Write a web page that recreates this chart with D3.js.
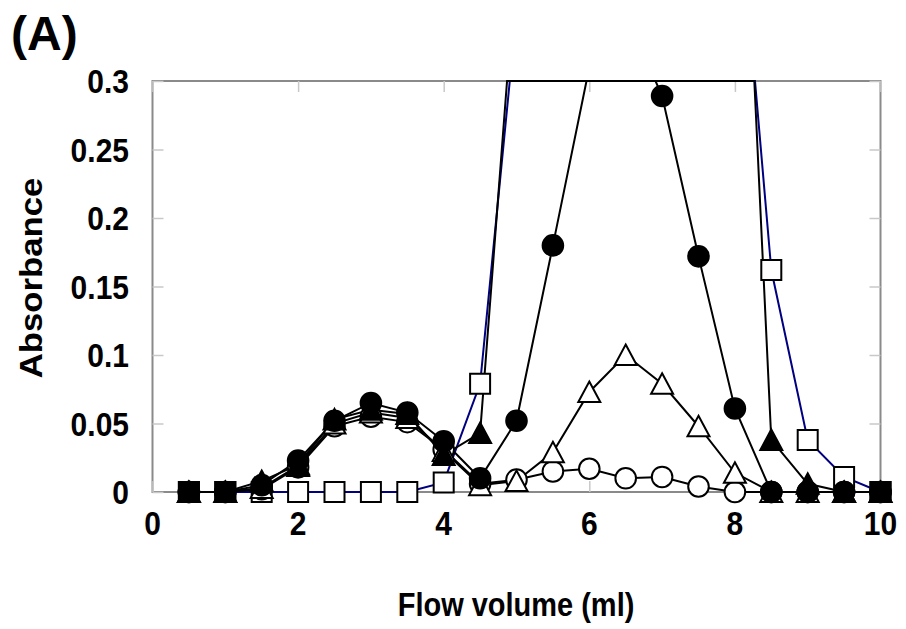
<!DOCTYPE html>
<html>
<head>
<meta charset="utf-8">
<script src="https://cdn.jsdelivr.net/npm/d3@7/dist/d3.min.js"></script>
<style>
  body { margin: 0; background: #fff; }
  text { font-family: "Liberation Sans", Arial, sans-serif; font-weight: bold; fill: #000; }
</style>
</head>
<body>
<div id="chart"></div>
<script>
// flow volume (ml) of each fraction
let volumes = [0.5, 1, 1.5, 2, 2.5, 3, 3.5, 4, 4.5, 5, 5.5, 6, 6.5, 7, 7.5, 8, 8.5, 9, 9.5, 10];

// absorbance per fraction, values above 0.3 run off the top of the axis
let openSquares     = [0, 0, 0, 0, 0, 0, 0, 0.007, 0.079, 0.35, 0.4, 0.4, 0.4, 0.4, 0.4, 0.47, 0.162, 0.038, 0.011, 0];
let openCircles     = [0, 0, 0.002, 0.018, 0.048, 0.055, 0.051, 0.031, 0.006, 0.009, 0.015, 0.017, 0.010, 0.011, 0.004, 0, 0, 0, 0, 0];
let openTriangles   = [0, 0, 0.003, 0.019, 0.050, 0.058, 0.054, 0.030, 0.005, 0.008, 0.029, 0.073, 0.100, 0.079, 0.048, 0.014, 0, 0, 0, 0];
let filledTriangles = [0, 0, 0.008, 0.020, 0.053, 0.060, 0.057, 0.027, 0.043, 0.39, 0.4, 0.4, 0.4, 0.4, 0.4, 0.6, 0.038, 0.006, 0, 0];
let filledCircles   = [0, 0, 0.005, 0.023, 0.052, 0.065, 0.058, 0.037, 0.010, 0.052, 0.180, 0.31, 0.35, 0.289, 0.172, 0.061, 0, 0, 0, 0];
let filledSquareVolumes = [0.5, 1, 10];
let filledSquares       = [0, 0, 0];

let xTicks = [0, 2, 4, 6, 8, 10];
let yTicks = [0, 0.05, 0.1, 0.15, 0.2, 0.25, 0.3];

let width = 906, height = 629;
let plotLeft = 152.5, plotRight = 880.5, plotTop = 81, plotBottom = 492;

let svg = d3.select("#chart").append("svg")
  .attr("width", width)
  .attr("height", height);

let x = d3.scaleLinear().domain([0, 10]).range([plotLeft, plotRight]);
let y = d3.scaleLinear().domain([0, 0.3]).range([plotBottom, plotTop]).clamp(true);

// plot frame
svg.append("rect")
  .attr("x", plotLeft).attr("y", plotTop)
  .attr("width", plotRight - plotLeft).attr("height", plotBottom - plotTop)
  .attr("fill", "none")
  .attr("stroke", "#8a8a8a")
  .attr("stroke-width", 2);

// inward ticks on all four sides
let tickColor = "#c8c8c8";
function styleTicks(g) {
  g.select(".domain").remove();
  g.selectAll("line").attr("stroke", tickColor).attr("stroke-width", 1.5);
}
svg.append("g").attr("transform", "translate(" + plotLeft + ",0)")
  .call(d3.axisRight(y).tickValues(yTicks).tickSize(11).tickFormat(""))
  .call(styleTicks);
svg.append("g").attr("transform", "translate(" + plotRight + ",0)")
  .call(d3.axisLeft(y).tickValues(yTicks).tickSize(11).tickFormat(""))
  .call(styleTicks);
svg.append("g").attr("transform", "translate(0," + plotTop + ")")
  .call(d3.axisBottom(x).tickValues(xTicks).tickSize(11).tickFormat(""))
  .call(styleTicks);
svg.append("g").attr("transform", "translate(0," + plotBottom + ")")
  .call(d3.axisTop(x).tickValues(xTicks).tickSize(11).tickFormat(""))
  .call(styleTicks);

// tick labels (the original text is a little taller than it is wide)
let stretch = 1.12;
svg.selectAll(".ylab").data(yTicks).enter().append("text")
  .attr("transform", d => "translate(129," + (y(d) + 12) + ") scale(1," + stretch + ")")
  .attr("text-anchor", "end")
  .style("font-size", "30px")
  .text(d => d);
svg.selectAll(".xlab").data(xTicks).enter().append("text")
  .attr("transform", d => "translate(" + x(d) + ",535) scale(1," + stretch + ")")
  .attr("text-anchor", "middle")
  .style("font-size", "30px")
  .text(d => d);

// titles
svg.append("text")
  .attr("transform", "translate(42,278) scale(1," + stretch + ") rotate(-90)")
  .attr("text-anchor", "middle")
  .style("font-size", "31px")
  .text("Absorbance");
svg.append("text")
  .attr("transform", "translate(516,616) scale(1," + stretch + ")")
  .attr("text-anchor", "middle")
  .style("font-size", "29px")
  .text("Flow volume (ml)");
svg.append("text")
  .attr("x", 11).attr("y", 50)
  .style("font-size", "48px")
  .text("(A)");

// where a segment leaves the axis, add the crossing point so the line runs along the top edge
let yMax = 0.3;
function clippedPoints(xs, vs) {
  let pts = [];
  for (let i = 0; i < xs.length; i++) {
    if (i > 0) {
      let x0 = xs[i - 1], v0 = vs[i - 1], x1 = xs[i], v1 = vs[i];
      if ((v0 - yMax) * (v1 - yMax) < 0) {
        let t = (yMax - v0) / (v1 - v0);
        pts.push([x0 + t * (x1 - x0), yMax]);
      }
    }
    pts.push([xs[i], vs[i]]);
  }
  return pts;
}

let line = d3.line().x(d => x(d[0])).y(d => y(d[1]));

let series = [
  { xs: volumes, vs: openSquares, shape: "square", fill: "#fff", line: "#000080" },
  { xs: volumes, vs: openCircles, shape: "circle", fill: "#fff", line: "#000" },
  { xs: volumes, vs: openTriangles, shape: "triangle", fill: "#fff", line: "#000" },
  { xs: volumes, vs: filledTriangles, shape: "triangle", fill: "#000", line: "#000" },
  { xs: volumes, vs: filledCircles, shape: "circle", fill: "#000", line: "#000" },
  { xs: filledSquareVolumes, vs: filledSquares, shape: "square", fill: "#000", line: "#000", gapAfter: 1 }
];

series.forEach(function(s) {
  // a gap in the volumes leaves the line broken
  let runs = s.gapAfter ? [[0, s.gapAfter + 1], [s.gapAfter + 1, s.xs.length]] : [[0, s.xs.length]];
  runs.forEach(function(r) {
    let pts = clippedPoints(s.xs.slice(r[0], r[1]), s.vs.slice(r[0], r[1]));
    if (pts.length < 2) return;
    svg.append("path")
      .attr("d", line(pts))
      .attr("fill", "none")
      .attr("stroke", s.line)
      .attr("stroke-width", 2);
  });
});

let symbols = {
  square: d3.symbol().type(d3.symbolSquare).size(20 * 20),
  circle: d3.symbol().type(d3.symbolCircle).size(Math.PI * 10.3 * 10.3)
};
function trianglePath() {
  return "M0,-10.5L11,10L-11,10Z";
}

series.forEach(function(s) {
  let pts = s.xs.map((v, i) => [v, s.vs[i]]).filter(d => d[1] <= yMax);
  svg.append("g").selectAll("path")
    .data(pts)
    .enter()
    .append("path")
    .attr("transform", d => "translate(" + x(d[0]) + "," + y(d[1]) + ")")
    .attr("d", s.shape === "triangle" ? trianglePath() : symbols[s.shape]())
    .attr("fill", s.fill)
    .attr("stroke", "#000")
    .attr("stroke-width", 2);
});
</script>
</body>
</html>
